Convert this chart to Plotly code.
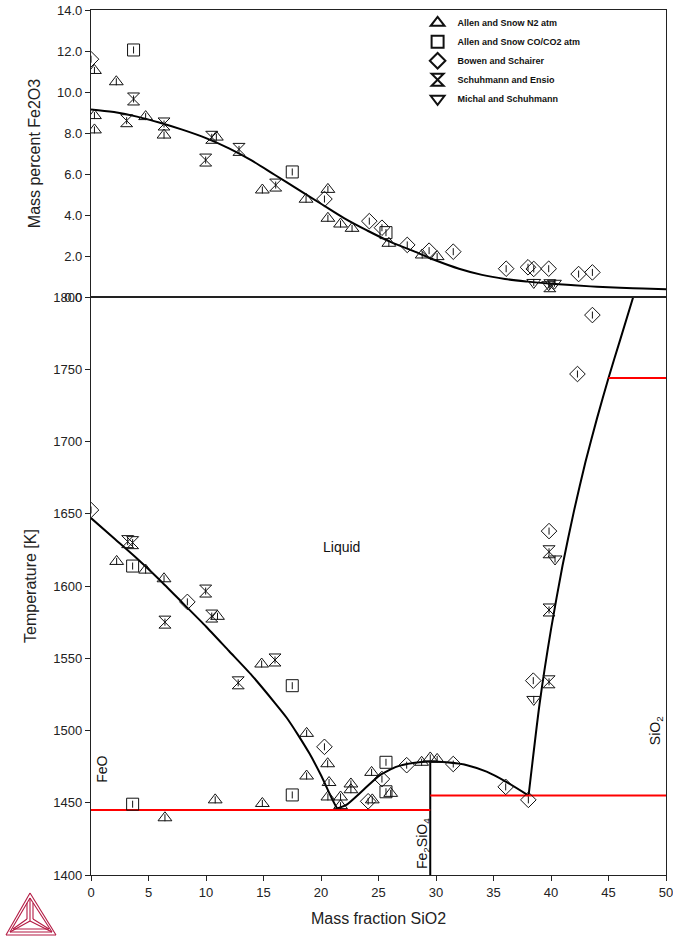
import plotly.graph_objects as go

# ---- Fe2O3 content of the liquid (upper panel) ----
top_tri_x = [0.3, 0.3, 0.3, 2.2, 4.75, 6.35, 10.9, 14.9, 18.7, 20.6, 20.6, 21.7, 22.7, 25.9, 28.8, 30.1]
top_tri_y = [11.05, 8.85, 8.15, 10.5, 8.8, 7.9, 7.8, 5.22, 4.77, 5.25, 3.84, 3.56, 3.35, 2.62, 2.05, 1.97]
top_sq_x = [3.7, 17.5, 25.65]
top_sq_y = [12.05, 6.1, 3.14]
top_dia_x = [0.0, 20.3, 24.2, 25.3, 27.5, 29.4, 31.5, 36.1, 38.0, 38.5, 39.8, 42.4, 43.6]
top_dia_y = [11.6, 4.78, 3.7, 3.38, 2.54, 2.26, 2.21, 1.38, 1.45, 1.37, 1.38, 1.12, 1.2]
top_hg_x = [3.7, 3.1, 6.35, 10.5, 9.97, 12.87, 16.06, 39.9]
top_hg_y = [9.66, 8.6, 8.44, 7.79, 6.68, 7.2, 5.46, 0.55]
top_inv_x = [38.5, 40.3, 39.8]
top_inv_y = [0.71, 0.67, 0.6]

calc_fe2o3_x = [0, 2, 4, 6, 8, 10, 12, 14, 16, 18, 20, 22, 24, 26, 28, 30, 32, 34, 36, 38, 40, 42, 44, 46, 48, 50]
calc_fe2o3_y = [9.15, 9.02, 8.8, 8.5, 8.15, 7.75, 7.25, 6.65, 5.95, 5.25, 4.55, 3.85, 3.25, 2.7, 2.25, 1.78,
                1.38, 1.08, 0.88, 0.75, 0.65, 0.57, 0.5, 0.45, 0.41, 0.38]

# ---- Phase diagram FeO-SiO2 (lower panel) ----
bot_tri_x = [2.23, 4.75, 6.35, 11.0, 14.84, 18.75, 20.58, 18.75, 20.7, 20.6, 21.7, 21.7, 22.6, 22.6,
             24.4, 24.46, 26.06, 28.75, 29.5, 30.1, 6.43, 10.8, 14.9]
bot_tri_t = [1617, 1611, 1605, 1579, 1546, 1498, 1477, 1468.5, 1464, 1454, 1454, 1448, 1463, 1459,
             1471, 1452, 1456.5, 1478, 1481, 1480, 1439.6, 1452, 1449.5]
bot_sq_x = [3.62, 3.62, 17.5, 17.5, 25.65, 25.65]
bot_sq_t = [1613.8, 1449, 1531, 1455.4, 1478, 1457.6]
bot_dia_x = [0.0, 8.38, 20.3, 24.1, 25.3, 27.45, 31.5, 36.06, 38.03, 38.46, 39.83, 42.3, 43.6]
bot_dia_t = [1652.6, 1589, 1488.7, 1451, 1466.4, 1476, 1476.8, 1461, 1452, 1534.5, 1638, 1746.7, 1787.5]
bot_hg_x = [3.19, 3.62, 6.43, 9.97, 10.5, 12.8, 16.0, 39.83, 39.83, 39.83]
bot_hg_t = [1630.7, 1630, 1575, 1596.5, 1579.2, 1533, 1548.8, 1623.7, 1583.4, 1533.7]
bot_inv_x = [40.35, 38.5]
bot_inv_t = [1618.7, 1521.5]

liq_wus_x = [0, 2, 4, 6, 8, 10, 12, 14, 16, 17, 18, 19, 20, 21, 21.4]
liq_wus_t = [1647, 1633, 1619, 1604, 1588, 1572, 1555, 1538, 1519, 1509, 1497, 1484, 1469, 1452, 1446]
liq_fay_x = [21.4, 22.2, 23.7, 25.1, 26.6, 28.0, 29.5, 30.9, 32.7, 34.4, 36.1, 38.05]
liq_fay_t = [1446, 1448.5, 1459, 1469, 1475, 1477.5, 1478.5, 1478, 1476, 1471.5, 1464.5, 1455]
liq_sio2_x = [38.05, 39.0, 40.0, 41.0, 42.0, 43.0, 44.0, 45.0, 46.0, 47.15]
liq_sio2_t = [1455, 1518, 1570, 1614, 1652, 1686, 1716, 1744, 1770, 1800]

fayalite_x = 29.5
fayalite_tmax = 1478.5
eutectic_low = 1445      # wustite + fayalite
eutectic_high = 1455     # fayalite + tridymite
tridymite_cristobalite = 1744
tr_cr_x0 = 45.0

x_ticks = [0, 5, 10, 15, 20, 25, 30, 35, 40, 45, 50]
t_ticks = [1400, 1450, 1500, 1550, 1600, 1650, 1700, 1750, 1800]
f_ticks = [0, 2, 4, 6, 8, 10, 12, 14]

FONT = "Liberation Sans, Arial, sans-serif"
INK = "#111"
MK = dict(size=12, color=INK, line=dict(width=1.0, color=INK))
TICK = dict(size=5, color=INK, symbol="line-ns-open", line=dict(width=1.0, color=INK))

series = [
    ("Allen and Snow N2 atm", "triangle-up-open", top_tri_x, top_tri_y, bot_tri_x, bot_tri_t),
    ("Allen and Snow CO/CO2 atm", "square-open", top_sq_x, top_sq_y, bot_sq_x, bot_sq_t),
    ("Bowen and Schairer", "diamond-open", top_dia_x, top_dia_y, bot_dia_x, bot_dia_t),
    ("Schuhmann and Ensio", "hourglass-open", top_hg_x, top_hg_y, bot_hg_x, bot_hg_t),
    ("Michal and Schuhmann", "triangle-down-open", top_inv_x, top_inv_y, bot_inv_x, bot_inv_t),
]

fig = go.Figure()

# calculated curves
black = dict(color="black", width=2)
red = dict(color="#ff0000", width=2)
fig.add_trace(go.Scatter(x=calc_fe2o3_x, y=calc_fe2o3_y, mode="lines", line=dict(black, shape="spline"),
                         xaxis="x2", yaxis="y2", showlegend=False, hoverinfo="skip"))
for xs, ts in [(liq_wus_x, liq_wus_t), (liq_fay_x, liq_fay_t), (liq_sio2_x, liq_sio2_t)]:
    fig.add_trace(go.Scatter(x=xs, y=ts, mode="lines", line=dict(black, shape="spline", smoothing=0.6),
                             showlegend=False, hoverinfo="skip"))
fig.add_trace(go.Scatter(x=[fayalite_x, fayalite_x], y=[t_ticks[0], fayalite_tmax], mode="lines",
                         line=black, showlegend=False, hoverinfo="skip"))
fig.add_trace(go.Scatter(x=[x_ticks[0], fayalite_x], y=[eutectic_low, eutectic_low], mode="lines",
                         line=red, showlegend=False, hoverinfo="skip"))
fig.add_trace(go.Scatter(x=[fayalite_x, x_ticks[-1]], y=[eutectic_high, eutectic_high], mode="lines",
                         line=red, showlegend=False, hoverinfo="skip"))
fig.add_trace(go.Scatter(x=[tr_cr_x0, x_ticks[-1]], y=[tridymite_cristobalite, tridymite_cristobalite],
                         mode="lines", line=red, showlegend=False, hoverinfo="skip"))

# experimental points (open symbol with a small inner stroke)
for name, sym, tx, ty, bx, bt in series:
    fig.add_trace(go.Scatter(x=tx, y=ty, mode="markers", name=name, legendgroup=name,
                             marker=dict(MK, symbol=sym), xaxis="x2", yaxis="y2"))
    fig.add_trace(go.Scatter(x=tx, y=ty, mode="markers", legendgroup=name, showlegend=False,
                             marker=TICK, xaxis="x2", yaxis="y2", hoverinfo="skip"))
    fig.add_trace(go.Scatter(x=bx, y=bt, mode="markers", name=name, legendgroup=name, showlegend=False,
                             marker=dict(MK, symbol=sym)))
    fig.add_trace(go.Scatter(x=bx, y=bt, mode="markers", legendgroup=name, showlegend=False,
                             marker=TICK, hoverinfo="skip"))

# plot area in pixels: x 91..666, lower panel 297..875, upper panel 10..297
L, R, T, B = 91, 7, 10, 65
W, H = 673, 940
ph = H - T - B
split = (875 - 297) / ph

axis_common = dict(showline=True, linecolor="#222", linewidth=1.3, mirror=True, showgrid=False,
                   zeroline=False, ticks="outside", ticklen=5, tickcolor="#222",
                   tickfont=dict(family=FONT, size=13, color="#222"))
title_font = dict(family=FONT, size=16, color="#222")

fig.update_layout(
    width=W, height=H,
    margin=dict(l=L, r=R, t=T, b=B, autoexpand=False),
    paper_bgcolor="white", plot_bgcolor="white",
    font=dict(family=FONT, color="#222"),
    xaxis=dict(axis_common, range=[0, 50], tickvals=x_ticks, domain=[0, 1], anchor="y",
               ticklabeloverflow="allow",
               title=dict(text="Mass fraction SiO2", font=title_font, standoff=14)),
    yaxis=dict(axis_common, range=[1400, 1800], tickvals=t_ticks, domain=[0, split], anchor="x",
               title=dict(text="Temperature [K]", font=title_font, standoff=12)),
    xaxis2=dict(axis_common, range=[0, 50], matches="x", showticklabels=False, ticks="", anchor="y2"),
    yaxis2=dict(axis_common, range=[0, 14], tickvals=f_ticks, tickformat=".1f", domain=[split, 1], anchor="x2",
                title=dict(text="Mass percent Fe2O3", font=title_font, standoff=12)),
    legend=dict(x=0.568, y=1.002, xanchor="left", yanchor="top", bgcolor="rgba(0,0,0,0)",
                font=dict(family=FONT, size=9, color=INK, weight="bold"),
                itemsizing="constant", tracegroupgap=0),
    showlegend=True,
)

# region / phase labels
lab = dict(family=FONT, size=14, color=INK)
fig.add_annotation(x=21.8, y=1627, text="Liquid", showarrow=False, font=lab)
fig.add_annotation(x=0.9, y=1473, text="FeO", showarrow=False, textangle=-90, font=lab)
fig.add_annotation(x=49.1, y=1500, text="SiO<sub>2</sub>", showarrow=False, textangle=-90, font=lab)
fig.add_annotation(x=28.85, y=1422, text="Fe<sub>2</sub>SiO<sub>4</sub>", showarrow=False, textangle=-90, font=lab)

# Thermo-Calc logo in the lower-left corner
def px(xp, yp):
    return (xp - L) / (W - L - R), (H - B - yp) / ph

logo_col = "#B31942"
segs = [
    [(30, 893), (6, 935)], [(30, 893), (56, 935)], [(6, 935), (56, 935)],
    [(30, 898), (10, 932)], [(30, 898), (52, 932)], [(10, 932), (52, 932)],
    [(30, 898), (30, 921)], [(30, 921), (10, 932)], [(30, 921), (52, 932)],
    [(27, 903), (27, 919)], [(33, 903), (33, 919)],
    [(27, 919), (13, 929)], [(33, 919), (49, 929)], [(13, 929), (49, 929)],
]
for (a, b) in segs:
    x0, y0 = px(*a)
    x1, y1 = px(*b)
    fig.add_shape(type="line", xref="paper", yref="paper", x0=x0, y0=y0, x1=x1, y1=y1,
                  line=dict(color=logo_col, width=1.1))

fig.write_html("out.html")
